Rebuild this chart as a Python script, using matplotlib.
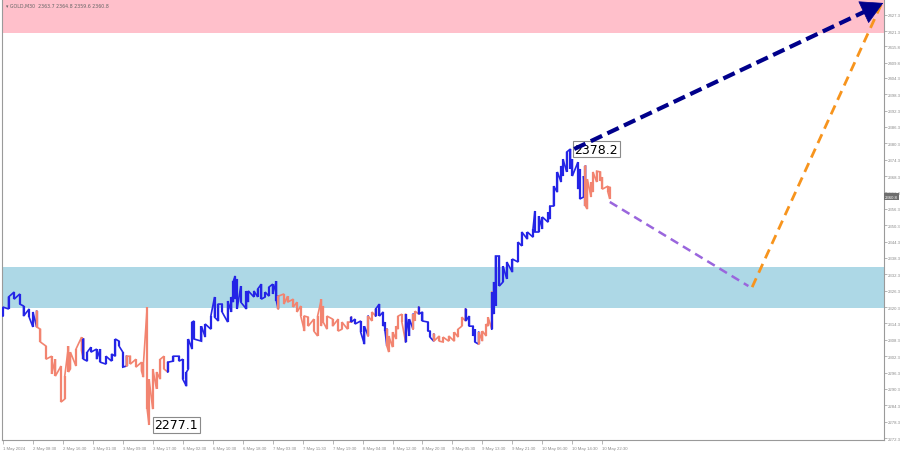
#!/usr/bin/env python3
"""GOLD M30 wave chart with support/resistance zones and forecast path."""

import matplotlib
matplotlib.use('Agg')
import matplotlib.pyplot as plt

# sampled M30 bars: bar number from the left edge, bar high and bar low
bars = [0, 3, 6, 9, 11, 14, 16,
        18, 20, 23, 26, 28, 31, 33, 35, 36, 39, 42,
        43, 45, 47, 50, 52, 55, 58, 60, 62, 64,
        66, 68, 71, 74, 75, 77, 78, 80, 82, 84, 86,
        88, 91, 94, 96, 98, 99, 101, 102, 106, 108, 111, 113, 115, 117, 120,
        122, 123, 124, 125, 127, 130, 131, 134, 136, 138, 140, 142, 144, 146,
        147, 150, 152, 155, 157, 159, 161, 163, 166, 168, 170, 171, 173, 176,
        179, 181, 184,
        186, 188, 191, 193,
        195, 197,
        199, 201, 203, 204,
        205, 206, 208, 210, 211, 213,
        215, 217,
        219, 220,
        222, 224, 227, 228,
        230, 233, 235, 238, 241, 243, 245,
        247, 249, 251, 252,
        254, 256, 258, 259,
        261, 262, 263, 265, 267, 269, 272, 275, 277, 280, 283, 284, 286, 288,
        291, 292, 294, 296, 298, 299, 301, 303, 304, 307, 308, 310,
        311, 312, 314, 315, 317, 319, 320, 323, 324]
highs = [2320.3, 2324.0, 2325.8, 2325.1, 2320.7, 2319.6, 2318.5,
         2318.8, 2312.2, 2306.0, 2302.3, 2301.2, 2298.7, 2295.0, 2306.0, 2303.8, 2304.9, 2309.3,
         2308.6, 2303.8, 2305.6, 2304.9, 2304.9, 2302.3, 2303.1, 2308.6, 2307.8, 2303.8,
         2302.3, 2302.3, 2301.2, 2300.1, 2299.4, 2320.3, 2293.9, 2297.6, 2296.5, 2301.2, 2302.3,
         2300.1, 2302.3, 2302.3, 2301.2, 2296.5, 2308.6, 2314.8, 2315.2, 2313.3, 2314.1, 2317.0,
         2324.0, 2321.4, 2321.4, 2322.5,
         2324.0, 2329.8, 2331.7, 2330.6, 2328.0, 2326.2, 2326.2, 2326.2, 2326.9, 2328.7, 2325.8,
         2327.6, 2328.7, 2329.8,
         2324.3, 2325.1, 2324.3, 2323.2, 2322.1, 2320.7, 2317.0, 2316.6, 2315.9, 2317.0, 2323.2,
         2320.7, 2317.0, 2315.9, 2315.9, 2314.8, 2314.8,
         2316.6, 2315.9, 2315.2, 2313.3,
         2317.0, 2318.5,
         2319.6, 2321.4, 2318.5, 2314.8,
         2312.2, 2309.7, 2311.1, 2313.3, 2317.0, 2317.7,
         2317.7, 2315.9,
         2317.7, 2318.8,
         2320.3, 2318.5, 2314.8, 2311.5,
         2310.4, 2309.7, 2309.3, 2309.7, 2311.1, 2312.2, 2316.6,
         2319.6, 2317.0, 2313.3, 2312.2,
         2311.1, 2311.5, 2314.1, 2316.6,
         2325.8, 2329.5, 2339.0, 2339.0, 2335.3, 2336.8, 2337.9, 2344.1, 2347.8, 2347.8, 2348.9,
         2355.5, 2353.6, 2353.3, 2355.1, 2357.3, 2364.6, 2369.8, 2372.0, 2374.5, 2377.1, 2378.2,
         2374.5, 2373.4, 2370.9, 2368.3,
         2372.0, 2367.2, 2366.1, 2369.8, 2370.1, 2369.8, 2367.9, 2364.6, 2364.2]
lows = [2317.0, 2319.6, 2323.2, 2321.4, 2317.0, 2316.6, 2313.0,
        2313.0, 2307.5, 2301.2, 2295.8, 2295.0, 2285.5, 2286.6, 2296.5, 2297.6, 2298.7, 2304.2,
        2301.2, 2300.5, 2303.8, 2301.2, 2300.1, 2299.4, 2300.5, 2302.3, 2306.0, 2298.3,
        2298.7, 2299.4, 2298.3, 2296.8, 2294.6, 2282.9, 2277.1, 2282.9, 2290.3, 2293.9, 2297.6,
        2296.5, 2300.5, 2300.5, 2293.9, 2291.3, 2297.6, 2304.9, 2308.6, 2307.8, 2309.3, 2312.2,
        2316.6, 2315.2, 2318.5, 2314.8,
        2318.5, 2322.1, 2323.2, 2319.6, 2322.1, 2319.6, 2322.1, 2324.0, 2324.0, 2323.2, 2324.0,
        2324.3, 2325.1, 2322.5,
        2319.6, 2321.4, 2322.1, 2320.3, 2318.5, 2317.0, 2311.5, 2313.3, 2311.5, 2309.7, 2313.3,
        2314.8, 2312.2, 2313.3, 2311.5, 2312.2, 2312.2,
        2314.8, 2314.1, 2311.1, 2306.7,
        2309.7, 2315.2,
        2317.0, 2317.0, 2313.3, 2311.5,
        2306.0, 2303.8, 2305.6, 2308.6, 2312.2, 2314.8,
        2307.5, 2309.7,
        2312.2, 2315.2,
        2317.7, 2315.2, 2311.5, 2309.3,
        2307.8, 2307.8, 2307.5, 2307.8, 2307.8, 2309.3, 2313.3,
        2315.2, 2313.3, 2309.7, 2307.5,
        2306.7, 2307.8, 2309.7, 2313.3,
        2312.2, 2317.7, 2320.7, 2328.0, 2329.5, 2330.6, 2333.1, 2336.8, 2342.7, 2345.2, 2345.9,
        2347.8, 2347.8, 2348.9, 2351.4, 2352.5, 2357.3, 2362.4, 2366.1, 2368.3, 2369.8, 2370.9,
        2368.3, 2363.5, 2359.9, 2360.6,
        2357.3, 2356.2, 2360.6, 2362.4, 2366.1, 2366.5, 2363.5, 2362.4, 2359.9]

# first bar of each wave and its direction
wave_starts = [0, 18, 43, 66, 88, 147, 186, 195, 199, 205, 215, 219,
               222, 230, 247, 254, 261, 311]
wave_dirs = ['up', 'down', 'up', 'down', 'up', 'down', 'up', 'down', 'up',
             'down', 'up', 'down', 'up', 'down', 'up', 'down', 'up', 'down']

# x axis labels, one every 16 bars
time_labels = ['1 May 2024', '2 May 08:30', '2 May 16:30', '3 May 01:30',
               '3 May 09:30', '3 May 17:30', '6 May 02:30', '6 May 10:30',
               '6 May 18:30', '7 May 03:30', '7 May 11:30', '7 May 19:30',
               '8 May 04:30', '8 May 12:30', '8 May 20:30', '9 May 05:30',
               '9 May 13:30', '9 May 21:30', '10 May 06:30', '10 May 14:30',
               '10 May 22:30']

# right price scale
price_ticks = [2427.3, 2421.3, 2415.8, 2409.8, 2404.3, 2398.3, 2392.3,
               2386.3, 2380.3, 2374.3, 2368.3, 2362.3, 2356.3, 2350.3,
               2344.3, 2338.3, 2332.3, 2326.3, 2320.3, 2314.3, 2308.3,
               2302.3, 2296.3, 2290.3, 2284.3, 2278.3, 2272.3]

# zones (price bottom, price top)
resistance_zone = (2420.7, 2445.0)
support_zone = (2320.0, 2335.0)

# forecast lines: (bar, price) endpoints
main_target = [(305, 2378.2), (470, 2431.7)]
correction_path = [(324, 2358.8), (398, 2328.0)]
rebound_path = [(400, 2327.6), (469, 2431.3)]

last_price = 2360.8
header = '\u25be GOLD,M30  2363.7 2364.8 2359.6 2360.8'

COLORS = {'up': '#2424E6', 'down': '#F28470'}
SMALL = dict(fontsize=3.1, family='Liberation Sans')


def draw_wave(ax, b, hi, lo, color):
    """Bars as vertical sticks joined into one jagged line."""
    xs, ys = [], []
    for i in range(len(b)):
        mid = hi[i] + lo[i]
        nxt = hi[i + 1] + lo[i + 1] if i + 1 < len(b) else mid
        if nxt >= mid:
            xs += [b[i], b[i]]
            ys += [lo[i], hi[i]]
        else:
            xs += [b[i], b[i]]
            ys += [hi[i], lo[i]]
    ax.plot(xs, ys, color=color, lw=1.2, solid_joinstyle='miter', zorder=3)
    ax.vlines(b, lo, hi, color=color, lw=1.6, zorder=3)


def main():
    fig = plt.figure(figsize=(9.0, 4.52), dpi=100)
    ax = fig.add_axes([2 / 900, 11 / 452, 882 / 900, 441 / 452])

    x_max = 470.4
    ax.set_xlim(-0.5, x_max)
    ax.set_ylim(2271.6, 2433.16)

    # zones
    ax.axhspan(*resistance_zone, color='#FFC0CB', zorder=0, lw=0)
    ax.axhspan(*support_zone, color='#ADD8E6', zorder=0, lw=0)

    # waves
    n = len(bars)
    for k, start in enumerate(wave_starts):
        end = wave_starts[k + 1] if k + 1 < len(wave_starts) else 10 ** 6
        idx = [i for i in range(n) if start <= bars[i] < end]
        # join to the first bar of the next wave
        if idx and idx[-1] + 1 < n:
            idx = idx + [idx[-1] + 1]
        draw_wave(ax,
                  [bars[i] for i in idx],
                  [highs[i] for i in idx],
                  [lows[i] for i in idx],
                  COLORS[wave_dirs[k]])

    # extremes
    box = dict(boxstyle='square,pad=0.15', fc='white', ec='#8a8a8a', lw=0.8)
    i_max = highs.index(max(highs))
    i_min = lows.index(min(lows))
    ax.annotate(f'{highs[i_max]:.1f}', (bars[i_max], highs[i_max]),
                xytext=(3, 0), textcoords='offset points',
                ha='left', va='center', fontsize=9, bbox=box, zorder=6)
    ax.annotate(f'{lows[i_min]:.1f}', (bars[i_min], lows[i_min]),
                xytext=(4, 0), textcoords='offset points',
                ha='left', va='center', fontsize=9, bbox=box, zorder=6)

    # forecast lines
    (x0, y0), (x1, y1) = correction_path
    ax.plot([x0, x1], [y0, y1], color='#9A66DD', lw=1.8,
            dashes=(3.5, 2.2), zorder=4)
    (x0, y0), (x1, y1) = rebound_path
    ax.plot([x0, x1], [y0, y1], color='#F7941D', lw=2.0,
            dashes=(3.5, 2.2), zorder=4)
    (x0, y0), (x1, y1) = main_target
    ax.plot([x0, x1 - 6], [y0, y1 - 1.9], color='#00008B', lw=3.0,
            dashes=(3.0, 1.4), zorder=7)
    ax.annotate('', xy=(x1, y1), xytext=(x1 - 9, y1 - 2.9),
                arrowprops=dict(arrowstyle='-|>,head_length=1.0,head_width=0.55',
                                color='#00008B', lw=0.5, mutation_scale=15,
                                shrinkA=0, shrinkB=0),
                annotation_clip=False, zorder=7)

    # right price axis
    ax.yaxis.tick_right()
    ax.set_yticks(price_ticks)
    ax.set_yticklabels([f'{p:.1f}' for p in price_ticks], **SMALL)
    ax.tick_params(axis='y', labelcolor='#8a8a8a',
                   color='#9a9a9a', length=2.0, width=0.5, pad=0.8)

    # time axis
    ax.set_xticks(range(0, 16 * len(time_labels), 16))
    ax.set_xticklabels(time_labels, **SMALL)
    for lab in ax.get_xticklabels():
        lab.set_horizontalalignment('left')
    ax.tick_params(axis='x', labelcolor='#8a8a8a',
                   color='#9a9a9a', length=3, width=0.5, pad=1.0)

    for side in ['left', 'right', 'bottom']:
        ax.spines[side].set_color('#9a9a9a')
        ax.spines[side].set_linewidth(0.8)
    ax.spines['top'].set_visible(False)

    # current price marker
    ax.text(1.001, last_price, f'{last_price:.1f}', transform=ax.get_yaxis_transform(),
            ha='left', va='center', color='white',
            bbox=dict(boxstyle='square,pad=0.25', fc='#6e6e6e', ec='none'),
            zorder=7, clip_on=False, **SMALL)

    ax.text(0.004, 0.992, header, transform=ax.transAxes, ha='left', va='top',
            fontsize=3.4, color='#666666')

    fig.savefig('out.png', dpi=100, facecolor='white')
    plt.close(fig)


if __name__ == '__main__':
    main()
